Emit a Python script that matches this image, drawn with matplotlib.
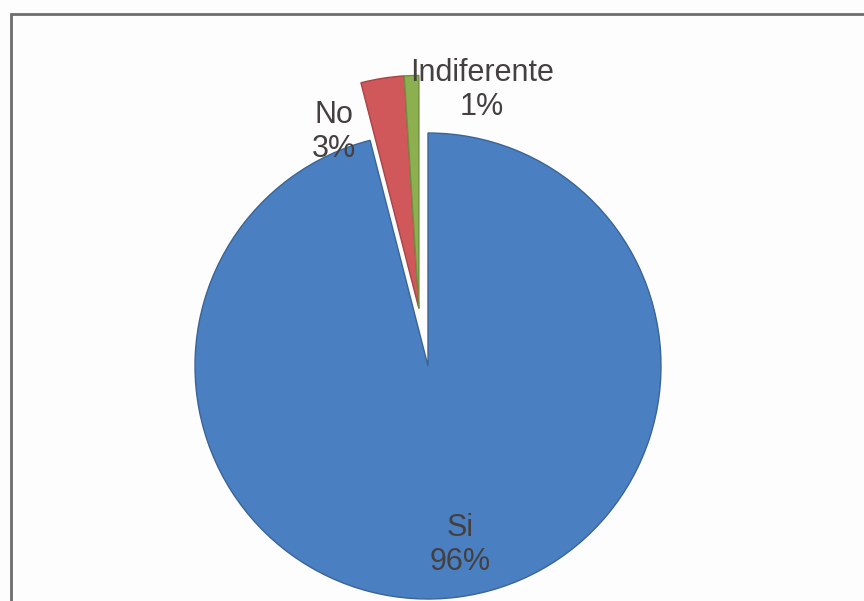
"""Pie chart of survey answers (Si / No / Indiferente)."""

import matplotlib

matplotlib.use("Agg")
import matplotlib.pyplot as plt
from matplotlib.patches import Rectangle

# answers, in drawing order (clockwise from 12 o'clock)
categories = ["Si", "No", "Indiferente"]
percentages = [96, 3, 1]

colors = ["#4a7fc1", "#d0575a", "#8cb050"]
edge_colors = ["#3b6496", "#a84446", "#6f8f3c"]
RADIUS = 233
# pie() offsets exploded wedges in data units, so scale by the radius
explode = [0.0 * RADIUS, 0.25 * RADIUS, 0.0 * RADIUS]
# label anchor points in canvas pixels (x, y from top)
label_positions = [(460, 545), (334, 132), (482, 90)]

W, H = 864, 601

fig = plt.figure(figsize=(W / 100, H / 100), dpi=100)
fig.patch.set_facecolor("#fdfdfd")
ax = fig.add_axes([0, 0, 1, 1])

wedges, _ = ax.pie(
    percentages,
    colors=colors,
    explode=explode,
    startangle=90,
    counterclock=False,
    center=(428, H - 366),
    radius=RADIUS,
    frame=True,
    wedgeprops={"linewidth": 1.0},
)
for wedge, ec in zip(wedges, edge_colors):
    wedge.set_edgecolor(ec)
# the two small answers are pulled out together as one block
wedges[2].set_center(wedges[1].center)

ax.set_xlim(0, W)
ax.set_ylim(0, H)
ax.set_aspect("equal")
ax.axis("off")

for name, value, (px, py) in zip(categories, percentages, label_positions):
    ax.text(
        px, H - py, f"{name}\n{value}%",
        ha="center", va="center", fontsize=22, color="#454040",
        family=["Liberation Sans", "DejaVu Sans"], linespacing=1.2,
    )

# chart area frame (right and bottom edges run off the canvas)
ax.add_patch(Rectangle((11, -20), W + 40, H - 14 + 20, fill=False,
                       edgecolor="#6e6e6e", linewidth=2.0, clip_on=False))

fig.savefig("out.png", dpi=100, facecolor=fig.get_facecolor())
